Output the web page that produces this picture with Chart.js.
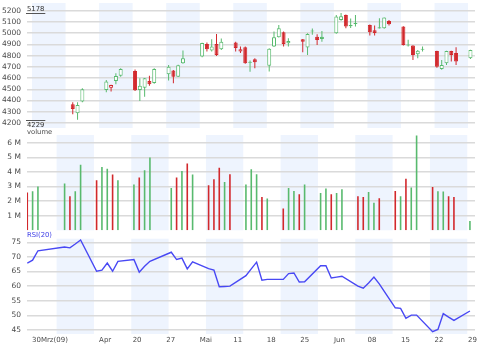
<!DOCTYPE html>
<html>
<head>
<meta charset="utf-8">
<title>Kurs, Volumen, RSI</title>
<script src="https://cdn.jsdelivr.net/npm/chart.js@4/dist/chart.umd.min.js"></script>
<style>
  html, body { margin: 0; padding: 0; background: #fff; }
  #wrap { position: relative; width: 484px; height: 350px; overflow: hidden; }
  canvas { position: absolute; left: 0; }
</style>
</head>
<body>
<div id="wrap">
  <canvas id="price" width="484" height="132" style="top:0"></canvas>
  <canvas id="volume" width="484" height="110" style="top:124px"></canvas>
  <canvas id="rsi" width="484" height="124" style="top:226px"></canvas>
</div>
<script>
// trading days, 2009
const dates = [
  '2009-04-07', '2009-04-08', '2009-04-09',
  '2009-04-14', '2009-04-15', '2009-04-16', '2009-04-17',
  '2009-04-20', '2009-04-21', '2009-04-22', '2009-04-23', '2009-04-24',
  '2009-04-27', '2009-04-28', '2009-04-29', '2009-04-30',
  '2009-05-04', '2009-05-05', '2009-05-06', '2009-05-07', '2009-05-08',
  '2009-05-11', '2009-05-12', '2009-05-13', '2009-05-14', '2009-05-15',
  '2009-05-18', '2009-05-19', '2009-05-20', '2009-05-21', '2009-05-22',
  '2009-05-25', '2009-05-26', '2009-05-27', '2009-05-28', '2009-05-29',
  '2009-06-01', '2009-06-02', '2009-06-03', '2009-06-04', '2009-06-05',
  '2009-06-08', '2009-06-09', '2009-06-10', '2009-06-11', '2009-06-12',
  '2009-06-15', '2009-06-16', '2009-06-17', '2009-06-18', '2009-06-19',
  '2009-06-22', '2009-06-23', '2009-06-24', '2009-06-25', '2009-06-26',
  '2009-06-29',
]

const opens = [
  4366, 4286, 4390,
  4494, 4513, 4574, 4621,
  4663, 4494, 4514, 4574, 4556,
  4634, 4666, 4612, 4732,
  4792, 4904, 4844, 4904, 4857,
  4916, 4836, 4874, 4737, 4767,
  4709, 4880, 4964, 5008, 4910,
  4945, 4871, 5015, 4968, 4968,
  4999, 5117, 5162, 5062, 5080,
  5073, 5025, 5042, 5043, 5108,
  5058, 4890, 4889, 4812, 4851,
  4841, 4681, 4732, 4841, 4823,
  4776,
]
const highs = [
  4384, 4384, 4510,
  4583, 4540, 4642, 4687,
  4675, 4598, 4600, 4621, 4687,
  4716, 4672, 4718, 4844,
  4914, 4916, 4946, 4993, 4951,
  4922, 4880, 4880, 4755, 4776,
  4866, 5014, 5073, 5014, 4954,
  4948, 4999, 5040, 4990, 5019,
  5162, 5178, 5165, 5130, 5162,
  5076, 5067, 5132, 5140, 5117,
  5060, 4940, 4892, 4850, 4880,
  4843, 4761, 4843, 4843, 4873,
  4852,
]
const lows = [
  4277, 4229, 4385,
  4473, 4480, 4545, 4612,
  4485, 4396, 4434, 4532, 4550,
  4577, 4554, 4609, 4726,
  4786, 4836, 4836, 4797, 4850,
  4836, 4822, 4726, 4656, 4687,
  4658, 4877, 4960, 4880, 4880,
  4830, 4806, 4985, 4895, 4924,
  4995, 5110, 5043, 5045, 5058,
  4978, 4978, 5040, 5038, 5067,
  4890, 4880, 4761, 4776, 4836,
  4692, 4673, 4716, 4747, 4716,
  4770,
]
const closes = [
  4325, 4360, 4500,
  4568, 4537, 4618, 4681,
  4491, 4532, 4598, 4545, 4681,
  4701, 4612, 4714, 4776,
  4911, 4857, 4880, 4806, 4922,
  4868, 4857, 4732, 4746, 4740,
  4860, 4964, 5043, 4904, 4930,
  4924, 4993, 5024, 4939, 4948,
  5147, 5150, 5058, 5071, 5089,
  5008, 5000, 5051, 5138, 5079,
  4895, 4899, 4806, 4842, 4860,
  4701, 4716, 4841, 4806, 4747,
  4850,
]
// million shares
const volumeMio = [
  2.59, 2.68, 3.0,
  3.2, 2.34, 2.68, 4.5,
  3.43, 4.34, 4.22, 3.82, 3.43,
  3.13, 3.61, 4.11, 4.98,
  2.9, 3.61, 4.06, 4.57, 3.82,
  3.09, 3.5, 4.29, 3.31, 3.84,
  3.13, 4.18, 3.84, 2.29, 2.18,
  1.5, 2.9, 2.7, 2.47, 3.13,
  2.56, 2.86, 2.47, 2.56, 2.82,
  2.34, 2.29, 2.63, 1.88, 2.2,
  2.7, 2.34, 3.54, 2.93, 6.5,
  2.97, 2.68, 2.66, 2.34, 2.29,
  0.63,
]
const rsi20 = [
  67.9, 68.9, 72.1,
  73.4, 73.1, 74.4, 75.8,
  65.1, 65.5, 67.9, 65.1, 68.5,
  69.1, 64.8, 66.8, 68.5,
  71.6, 69.1, 69.6, 65.9, 68.3,
  66.0, 65.5, 59.8, 59.9, 60.0,
  63.6, 65.9, 68.2, 62.0, 62.3,
  62.3, 64.3, 64.5, 61.4, 61.5,
  67.0, 67.0, 62.8, 63.1, 63.4,
  60.0, 59.3, 61.1, 63.1, 60.8,
  52.6, 52.4, 49.0, 50.1, 50.1,
  44.4, 45.2, 50.6, 49.4, 48.3,
  51.5,
]

const priceTicks = [4200, 4300, 4400, 4500, 4600, 4700, 4800, 4900, 5000, 5100, 5200]
const volumeTicks = [1, 2, 3, 4, 5, 6]
const rsiTicks = [45, 50, 55, 60, 65, 70, 75]
const weekLabelDates = ['2009-03-30', '2009-04-13', '2009-04-20', '2009-04-27', '2009-05-04', '2009-05-11',
  '2009-05-18', '2009-05-25', '2009-06-01', '2009-06-08', '2009-06-15', '2009-06-22', '2009-06-29']
const weekLabels = ['30Mrz(09)', 'Apr', '20', '27', 'Mai', '11', '18', '25', 'Jun', '08', '15', '22', '29']

const GREEN = '#58ba6e'
const RED = '#d2282c'
const GRID = '#dadada'
const BAND = '#eef4fe'
const TEXT = '#4a4a4a'
const FONT = 'DejaVu Sans'

const PLOT_LEFT = 27
const PLOT_RIGHT_PAD = 9
const X_MAX = 92.45

// days since Monday 30 March 2009
const dayOf = (s) => (Date.parse(s) - Date.parse('2009-03-30')) / 864e5
const days = dates.map(dayOf)
const weekTicks = weekLabelDates.map(dayOf)

const isUp = closes.map((c, i) => (i === 0 ? c >= opens[0] : c >= closes[i - 1]))
const candleColor = isUp.map((up) => (up ? GREEN : RED))

const yAxisFit = (scale) => {
  scale.width = PLOT_LEFT
  scale.paddingTop = 0
  scale.paddingBottom = 0
}

const yAxis = (min, max, ticks, fmt) => ({
  position: 'left',
  min,
  max,
  afterBuildTicks: (s) => {
    s.ticks = ticks.map((v) => ({ value: v }))
  },
  afterFit: yAxisFit,
  grid: { color: GRID, lineWidth: 1.4, drawTicks: false },
  border: { display: false },
  ticks: { padding: 6, color: TEXT, font: { family: FONT, size: 7.5 }, callback: fmt },
})

const hiddenX = (min) => ({ type: 'linear', display: false, min, max: X_MAX, offset: false })

const weekBands = {
  id: 'weekBands',
  beforeDraw(chart) {
    const { ctx, chartArea: a } = chart
    const x = chart.scales.x
    ctx.save()
    ctx.fillStyle = BAND
    for (let d = -14; d <= 91; d += 14) {
      const l = Math.max(x.getPixelForValue(d), a.left)
      const r = Math.min(x.getPixelForValue(d + 7), a.right)
      if (r > l) ctx.fillRect(l, a.top, r - l, a.bottom - a.top)
    }
    ctx.restore()
  },
}

const panelLabel = {
  id: 'panelLabel',
  afterDraw(chart, args, opts) {
    if (!opts.text) return
    const { ctx, chartArea: a } = chart
    ctx.save()
    ctx.font = `6.8px "${FONT}"`
    ctx.fillStyle = opts.color || TEXT
    ctx.textBaseline = 'middle'
    ctx.fillText(opts.text, a.left, opts.y)
    ctx.restore()
  },
}

// max / min markers in the price panel
const extremes = {
  id: 'extremes',
  afterDraw(chart) {
    if (chart.canvas.id !== 'price') return
    const { ctx, chartArea: a, scales: { y } } = chart
    const hi = Math.max(...highs)
    const lo = Math.min(...lows)
    ctx.save()
    ctx.font = `6.8px "${FONT}"`
    ctx.fillStyle = '#333'
    ctx.strokeStyle = '#555'
    ctx.lineWidth = 1
    const hy = Math.round(y.getPixelForValue(hi)) + 0.5
    const ly = Math.round(y.getPixelForValue(lo)) + 0.5
    const hw = ctx.measureText(String(hi)).width
    const lw = ctx.measureText(String(lo)).width
    ctx.textBaseline = 'bottom'
    ctx.fillText(String(hi), a.left, hy - 0.5)
    ctx.textBaseline = 'top'
    ctx.fillText(String(lo), a.left, ly + 1)
    ctx.beginPath()
    ctx.moveTo(a.left - 1, hy)
    ctx.lineTo(a.left + hw + 1, hy)
    ctx.moveTo(a.left - 1, ly)
    ctx.lineTo(a.left + lw + 1, ly)
    ctx.stroke()
    ctx.restore()
  },
}

const common = {
  responsive: false,
  animation: false,
  events: [],
  plugins: { legend: { display: false }, tooltip: { enabled: false } },
}

new Chart(document.getElementById('price'), {
  type: 'bar',
  data: {
    datasets: [
      {
        label: 'body',
        data: days.map((d, i) => ({ x: d + 0.5, y: [opens[i], closes[i]] })),
        backgroundColor: closes.map((c, i) => (c < opens[i] ? candleColor[i] : '#fff')),
        borderColor: candleColor,
        borderWidth: 1,
        borderSkipped: false,
        inflateAmount: 0,
        barThickness: 4,
        grouped: false,
        order: 0,
      },
      {
        label: 'wick',
        data: days.map((d, i) => ({ x: d + 0.5, y: [lows[i], highs[i]] })),
        backgroundColor: candleColor,
        borderWidth: 0,
        inflateAmount: 0,
        barThickness: 1,
        grouped: false,
        order: 1,
      },
    ],
  },
  options: {
    ...common,
    layout: { padding: { top: 3, bottom: 4, left: 0, right: PLOT_RIGHT_PAD } },
    scales: {
      x: hiddenX(-1.05),
      y: yAxis(4155, 5268, priceTicks, (v) => String(v)),
    },
  },
  plugins: [weekBands, extremes],
})

new Chart(document.getElementById('volume'), {
  type: 'bar',
  data: {
    datasets: [
      {
        label: 'volume',
        data: days.map((d, i) => ({ x: d + 0.5, y: volumeMio[i] })),
        backgroundColor: candleColor,
        borderWidth: 0,
        inflateAmount: 0,
        barThickness: 1.6,
        grouped: false,
      },
    ],
  },
  options: {
    ...common,
    layout: { padding: { top: 11, bottom: 3.7, left: 0, right: PLOT_RIGHT_PAD } },
    plugins: { ...common.plugins, panelLabel: { text: 'volume', y: 8.7 } },
    scales: {
      x: hiddenX(8.45),
      y: yAxis(0, 6.53, volumeTicks, (v) => v + ' M'),
    },
  },
  plugins: [weekBands, panelLabel],
})

new Chart(document.getElementById('rsi'), {
  type: 'line',
  data: {
    datasets: [
      {
        label: 'RSI(20)',
        data: days.map((d, i) => ({ x: d + 0.5, y: rsi20[i] })),
        borderColor: '#4848f4',
        borderWidth: 1.4,
        pointRadius: 0,
        tension: 0,
        xAxisID: 'x',
      },
    ],
  },
  options: {
    ...common,
    layout: { padding: { top: 12.7, bottom: 0, left: 0, right: PLOT_RIGHT_PAD } },
    plugins: { ...common.plugins, panelLabel: { text: 'RSI(20)', y: 9.3, color: '#3c3ce6' } },
    scales: {
      x: hiddenX(8.45),
      xt: {
        type: 'linear',
        position: 'bottom',
        min: -1.05,
        max: X_MAX,
        offset: false,
        afterBuildTicks: (s) => {
          s.ticks = weekTicks.map((v) => ({ value: v }))
        },
        afterFit: (s) => {
          s.height = 16
          s.paddingLeft = 0
          s.paddingRight = 0
        },
        grid: { display: false, drawTicks: false },
        border: { display: false },
        ticks: {
          align: 'start',
          autoSkip: false,
          maxRotation: 0,
          minRotation: 0,
          padding: 2,
          color: TEXT,
          font: { family: FONT, size: 7 },
          callback: (v, i) => weekLabels[i],
        },
      },
      y: yAxis(43.63, 76.23, rsiTicks, (v) => String(v)),
    },
  },
  plugins: [weekBands, panelLabel],
})
</script>
</body>
</html>
